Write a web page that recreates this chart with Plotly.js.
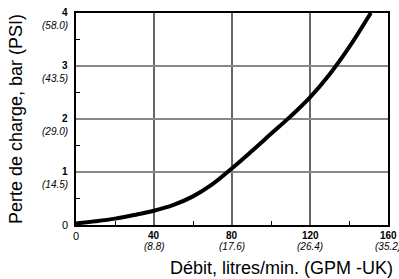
<!DOCTYPE html>
<html><head><meta charset="utf-8">
<script src="https://cdn.plot.ly/plotly-3.0.1.min.js"></script>
<style>html,body{margin:0;padding:0;background:#fff}#c{width:399px;height:279px}</style>
</head><body><div id="c"></div>
<script>
const flow = [0, 10, 20, 30, 40, 50, 60, 70, 80, 90, 100, 110, 120, 130, 140, 150, 151.2];
const pressure = [0.03, 0.07, 0.12, 0.19, 0.27, 0.38, 0.54, 0.77, 1.07, 1.39, 1.72, 2.05, 2.41, 2.84, 3.35, 3.93, 4.0];
const xTicks = [0, 40, 80, 120, 160];
const xTickMain = ['0', '40', '80', '120', '160'];
const xTickSub = ['', '(8.8)', '(17.6)', '(26.4)', '(35.2)'];
const yTicks = [0, 1, 2, 3, 4];
const yTickMain = ['0', '1', '2', '3', '4'];
const yTickSub = ['', '(14.5)', '(29.0)', '(43.5)', '(58.0)'];
const xMinor = [20, 60, 100, 140];
const yMinor = [0.5, 1.5, 2.5, 3.5];

const F = 'Liberation Sans, Arial, sans-serif';
const ann = [];
xTicks.forEach((v, i) => {
  const isZero = v === 0;
  ann.push({x: v, y: 0, xref: 'x', yref: 'paper', xanchor: 'center', yanchor: 'top', yshift: -3,
    text: isZero ? xTickMain[i] : '<b>' + xTickMain[i] + '</b>', showarrow: false,
    font: {family: F, size: isZero ? 11 : 10, color: '#000'}});
  if (xTickSub[i]) ann.push({x: v, y: 0, xref: 'x', yref: 'paper', xanchor: 'center', yanchor: 'top', yshift: -14,
    text: '<i>' + xTickSub[i] + '</i>', showarrow: false, font: {family: F, size: 10, color: '#000'}});
});
yTicks.forEach((v, i) => {
  const isZero = v === 0;
  ann.push({x: 0, y: v, xref: 'paper', yref: 'y', xanchor: 'right', yanchor: 'middle', xshift: -6, yshift: isZero ? 0 : 1,
    text: isZero ? yTickMain[i] : '<b>' + yTickMain[i] + '</b>', showarrow: false,
    font: {family: F, size: isZero ? 11 : 10, color: '#000'}});
  if (yTickSub[i]) ann.push({x: 0, y: v, xref: 'paper', yref: 'y', xanchor: 'right', yanchor: 'middle', xshift: -6, yshift: -12,
    text: '<i>' + yTickSub[i] + '</i>', showarrow: false, font: {family: F, size: 10, color: '#000'}});
});
ann.push({x: 1, y: 0, xref: 'paper', yref: 'paper', xanchor: 'right', yanchor: 'middle', xshift: 7, yshift: -43,
  text: 'Débit, litres/min. (GPM -UK)', showarrow: false, font: {family: F, size: 18, color: '#000'}});
ann.push({x: 0, y: 0.5, xref: 'paper', yref: 'paper', xanchor: 'center', yanchor: 'middle', xshift: -60,
  text: 'Perte de charge, bar (PSI)', textangle: -90, showarrow: false, font: {family: F, size: 18, color: '#000'}});

const trace = {x: flow, y: pressure, mode: 'lines', line: {color: '#000', width: 4, shape: 'spline'}, hoverinfo: 'skip'};
const layout = {
  width: 399, height: 279,
  margin: {l: 76, r: 10.5, t: 13, b: 53.5},
  paper_bgcolor: '#fff', plot_bgcolor: '#fff',
  showlegend: false,
  xaxis: {range: [0, 160], tickvals: xTicks, showticklabels: false, ticks: '', showgrid: true,
    gridcolor: '#666', gridwidth: 1.3, zeroline: false, showline: true, linecolor: '#000', linewidth: 2, mirror: true,
    minor: {tickvals: xMinor, ticks: 'inside', ticklen: 4, tickcolor: '#000', tickwidth: 1, showgrid: false}},
  yaxis: {range: [0, 4], tickvals: yTicks, showticklabels: false, ticks: '', showgrid: true,
    gridcolor: '#888', gridwidth: 1.5, zeroline: false, showline: true, linecolor: '#000', linewidth: 2, mirror: true,
    minor: {tickvals: yMinor, ticks: 'inside', ticklen: 4, tickcolor: '#000', tickwidth: 1, showgrid: false}},
  shapes: [{type: 'line', xref: 'x', yref: 'paper', x0: xTicks[2], x1: xTicks[2], y0: 0, y1: 1, line: {color: '#000', width: 1.2}, layer: 'below'}],
  annotations: ann
};
Plotly.newPlot('c', [trace], layout, {displayModeBar: false, staticPlot: true});
</script></body></html>
